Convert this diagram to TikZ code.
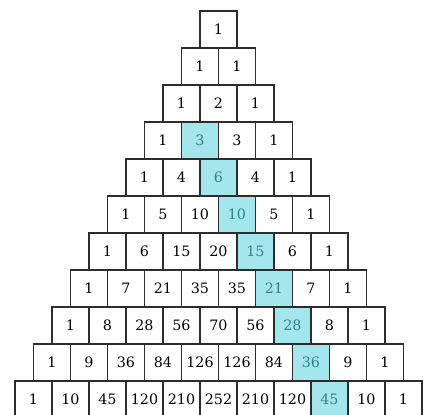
\documentclass[tikz,border=0pt]{standalone}
\usepackage{fontspec}
\setmainfont{DejaVu Serif}
\usetikzlibrary{positioning}
\definecolor{figCian}{RGB}{163,230,236}
\definecolor{figCianTexto}{RGB}{50,130,142}
\definecolor{figBorde}{RGB}{45,45,45}
\tikzset{
  celda/.style={
    rectangle, draw=figBorde, line width=0.8pt,
    minimum size=1cm, inner sep=0pt, font=\fontsize{11}{13}\selectfont
  },
  celdar/.style={
    celda, fill=figCian, text=figCianTexto
  }
}

\begin{document}
\begin{tikzpicture}
  \useasboundingbox (-5.905,-10.392) rectangle (5.581,0.797);
  % Triángulo de Pascal, fila por fila
  \foreach \fila/\valores in {
      0/{1},
      1/{1,1},
      2/{1,2,1},
      3/{1,3,3,1},
      4/{1,4,6,4,1},
      5/{1,5,10,10,5,1},
      6/{1,6,15,20,15,6,1},
      7/{1,7,21,35,35,21,7,1},
      8/{1,8,28,56,70,56,28,8,1},
      9/{1,9,36,84,126,126,84,36,9,1},
      10/{1,10,45,120,210,252,210,120,45,10,1}}{
    \foreach \v [count=\k from 0] in \valores {
      % diagonal resaltada: C(n,n-2)
      \pgfmathtruncatemacro\res{and(\fila>2,\k==\fila-2)}
      \ifnum\res=1 \def\estilo{celdar}\else\def\estilo{celda}\fi
      \node[style=\estilo] (c-\fila-\k) at ({\k-\fila/2},{-\fila}) {\v};
    }
  }
\end{tikzpicture}
\end{document}
